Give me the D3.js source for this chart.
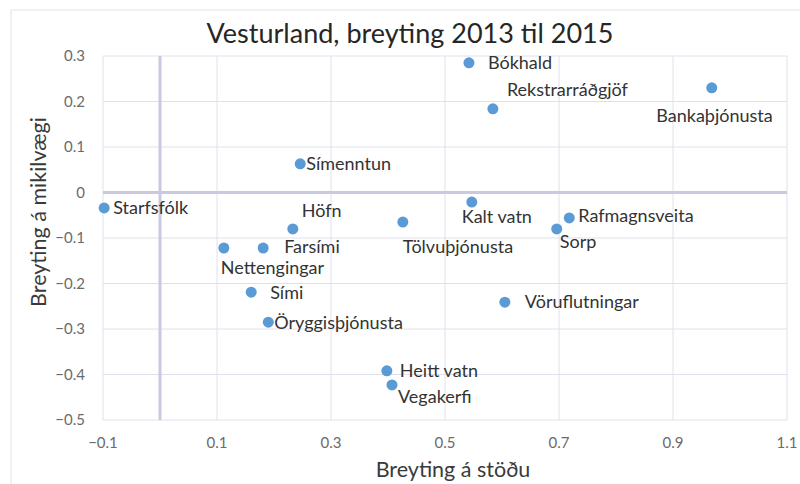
<!DOCTYPE html>
<html lang="is">
<head>
<meta charset="UTF-8">
<title>Vesturland, breyting 2013 til 2015</title>
<script src="https://d3js.org/d3.v7.min.js"></script>
<style>
  body { margin: 0; background: #fff; }
  svg text { font-family: Lato, "Open Sans", sans-serif; }
  .tick-label { fill: #6b6b6b; font-size: 15px; }
  .axis-title { fill: #3a3a3a; font-size: 21.5px; }
  .pt-label { fill: #333; font-size: 18px; }
</style>
</head>
<body>
<div id="chart"></div>
<script>
// gögn lesin af myndinni
const names = ["Starfsfólk", "Símenntun", "Höfn", "Nettengingar", "Farsími", "Sími",
  "Öryggisþjónusta", "Heitt vatn", "Vegakerfi", "Tölvuþjónusta", "Kalt vatn", "Bókhald",
  "Rekstrarráðgjöf", "Bankaþjónusta", "Rafmagnsveita", "Sorp", "Vöruflutningar"];
const stada = [-0.098, 0.246, 0.233, 0.112, 0.181, 0.160, 0.190, 0.398, 0.407, 0.426,
  0.547, 0.542, 0.584, 0.968, 0.718, 0.696, 0.605];
const mikilvaegi = [-0.034, 0.063, -0.080, -0.122, -0.122, -0.219, -0.285, -0.392, -0.423,
  -0.065, -0.021, 0.285, 0.184, 0.230, -0.056, -0.080, -0.241];
const xTicks = [-0.1, 0.1, 0.3, 0.5, 0.7, 0.9, 1.1];
const yTicks = [0.3, 0.2, 0.1, 0, -0.1, -0.2, -0.3, -0.4, -0.5];

// hvar merkimiðar sitja miðað við punktinn
const labelPos = {
  "Starfsfólk": [3, 0, "start"], "Símenntun": [0, 0, "start"], "Höfn": [3, -18, "start"],
  "Nettengingar": [-9, 19, "start"], "Farsími": [15, -2, "start"], "Sími": [13, 0, "start"],
  "Öryggisþjónusta": [0, 0, "start"], "Heitt vatn": [7, 0, "start"], "Vegakerfi": [0, 12, "start"],
  "Tölvuþjónusta": [-6, 24, "start"], "Kalt vatn": [-16, 14, "start"], "Bókhald": [13, 0, "start"],
  "Rekstrarráðgjöf": [8, -19, "start"], "Bankaþjónusta": [55, 28, "end"],
  "Rafmagnsveita": [3, -2, "start"], "Sorp": [-3, 13, "start"], "Vöruflutningar": [14, -1, "start"]
};

const data = names.map((n, i) => ({ name: n, x: stada[i], y: mikilvaegi[i] }));

const W = 800, H = 484;
const svg = d3.select("#chart").append("svg").attr("width", W).attr("height", H);

svg.append("rect").attr("x", 11).attr("y", 10).attr("width", W - 8).attr("height", H - 4)
  .attr("fill", "none").attr("stroke", "#e4e4ea");

const x = d3.scaleLinear().domain([-0.1, 1.1]).range([103, 787]);
const y = d3.scaleLinear().domain([-0.5, 0.3]).range([420, 56]);

// rúðunet
svg.append("g").selectAll("line").data(xTicks).join("line")
  .attr("x1", d => x(d)).attr("x2", d => x(d)).attr("y1", y(0.3)).attr("y2", y(-0.5))
  .attr("stroke", "#e0e0ec").attr("stroke-width", 1);
svg.append("g").selectAll("line").data(yTicks).join("line")
  .attr("x1", x(-0.1)).attr("x2", x(1.1)).attr("y1", d => y(d)).attr("y2", d => y(d))
  .attr("stroke", "#e0e0ec").attr("stroke-width", 1);

// núll-ásar
svg.append("line").attr("x1", x(-0.1)).attr("x2", x(1.1)).attr("y1", y(0)).attr("y2", y(0))
  .attr("stroke", "#c9c9df").attr("stroke-width", 3);
svg.append("line").attr("x1", x(0)).attr("x2", x(0)).attr("y1", y(0.3)).attr("y2", y(-0.5))
  .attr("stroke", "#c9c9df").attr("stroke-width", 3);

// kvarðar
svg.append("g").selectAll("text").data(xTicks).join("text")
  .attr("class", "tick-label").attr("x", d => x(d)).attr("y", 448)
  .attr("text-anchor", "middle").text(d => d3.format("")(+d.toFixed(1)));
svg.append("g").selectAll("text").data(yTicks).join("text")
  .attr("class", "tick-label").attr("x", 85).attr("y", d => y(d) + 5)
  .attr("text-anchor", "end").text(d => d3.format("")(+d.toFixed(1)));

// punktar
svg.append("g").selectAll("circle").data(data).join("circle")
  .attr("cx", d => x(d.x)).attr("cy", d => y(d.y)).attr("r", 5.5)
  .attr("fill", "#5b9bd5");

svg.append("g").selectAll("text").data(data).join("text")
  .attr("class", "pt-label")
  .attr("x", d => x(d.x) + 6 + labelPos[d.name][0])
  .attr("y", d => y(d.y) + 6.5 + labelPos[d.name][1])
  .attr("text-anchor", d => labelPos[d.name][2])
  .text(d => d.name);

// titlar
svg.append("text").attr("x", 410).attr("y", 43).attr("text-anchor", "middle")
  .attr("font-size", 27).attr("fill", "#262626").text("Vesturland, breyting 2013 til 2015");
svg.append("text").attr("class", "axis-title").attr("x", 453).attr("y", 477)
  .attr("text-anchor", "middle").text("Breyting á stöðu");
svg.append("text").attr("class", "axis-title")
  .attr("transform", "translate(46,212) rotate(-90)")
  .attr("text-anchor", "middle").text("Breyting á mikilvægi");
</script>
</body>
</html>
